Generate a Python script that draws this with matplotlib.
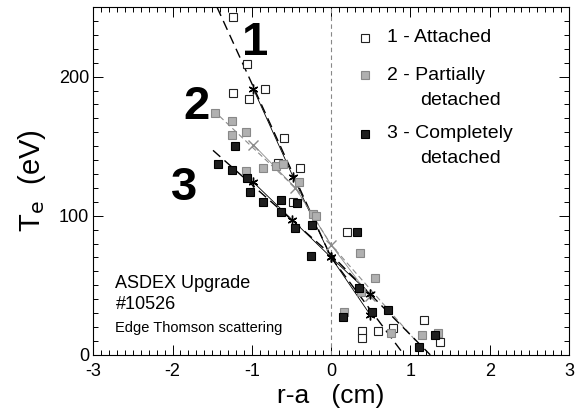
import matplotlib

matplotlib.use("Agg")
import matplotlib.pyplot as plt
from matplotlib.ticker import MultipleLocator

# open squares: 1 - attached
att_x = [-1.24, -1.06, -1.24, -1.03, -0.84, -0.59, -0.67, -0.39, -0.48, 0.20,
         0.39, 0.39, 0.59, 0.78, 1.17, 1.37]
att_y = [243, 209, 188, 184, 191, 156, 138, 134, 110, 88, 17, 12, 17, 19, 25, 9]

# gray squares: 2 - partially detached
part_x = [-1.46, -1.25, -1.25, -1.07, -1.07, -0.86, -0.69, -0.61, -0.41, -0.23,
          -0.19, 0.37, 0.55, 0.38, 0.16, 0.75, 1.15, 1.35]
part_y = [174, 168, 158, 160, 132, 134, 136, 137, 124, 101, 100, 73, 55, 45, 31,
          16, 14, 16]

# black squares: 3 - completely detached
comp_x = [-1.21, -1.43, -1.25, -1.06, -1.02, -0.86, -0.63, -0.63, -0.43, -0.46,
          -0.24, -0.26, 0.33, 0.35, 0.52, 0.72, 0.15, 1.11, 1.31]
comp_y = [150, 137, 133, 127, 117, 110, 111, 103, 109, 91, 93, 71, 88, 48, 31, 32,
          27, 6, 14]

# averaged points (asterisks)
avg1_x = [-0.98, -0.48, 0.0, 0.49]
avg1_y = [191, 128, 70, 29]
avg2_x = [-0.98, -0.45, 0.0, 0.49]
avg2_y = [151, 120, 79, 42]
avg3_x = [-0.98, -0.49, 0.0, 0.49]
avg3_y = [124, 97, 70, 44]

# fitted profiles
fit1_x = [-1.44, 0.0, 0.92]
fit1_y = [250, 70, 0]
fit2_x = [-1.49, -0.45, 0.0, 1.1]
fit2_y = [176, 120, 79, 8]
fit3_x = [-1.49, 0.0, 1.25]
fit3_y = [147, 72, 0]

legend_rows = ["1 - Attached", "2 - Partially", "detached", "3 - Completely", "detached"]

plt.rcParams.update({
    "font.family": ["Liberation Sans", "DejaVu Sans"],
    "font.size": 13,
    "axes.unicode_minus": False,
})

fig = plt.figure(figsize=(5.83, 4.16), dpi=100)
ax = fig.add_axes([0.16, 0.147, 0.816, 0.836])

ax.axvline(0, color="#888888", linewidth=0.8, linestyle=(0, (4, 3)))

ax.plot(fit1_x, fit1_y, color="black", linewidth=1.0, linestyle=(0, (7, 4)))
ax.plot(fit2_x, fit2_y, color="#8c8c8c", linewidth=0.8, linestyle=(0, (5, 3)))
ax.plot(fit3_x, fit3_y, color="black", linewidth=1.0, linestyle=(0, (7, 4)))

ax.plot(avg1_x, avg1_y, color="black", linewidth=0.6, marker=(6, 2, 0), markersize=7)
ax.plot(avg2_x, avg2_y, color="#8c8c8c", linewidth=0.6, marker="x", markersize=7)
ax.plot(avg3_x, avg3_y, color="black", linewidth=0.6, marker=(6, 2, 0), markersize=7)

ax.plot(att_x, att_y, linestyle="none", marker="s", markersize=6,
        markerfacecolor="white", markeredgecolor="#222222", markeredgewidth=0.8)
ax.plot(part_x, part_y, linestyle="none", marker="s", markersize=6,
        markerfacecolor="#b0b0b0", markeredgecolor="#888888", markeredgewidth=0.8)
ax.plot(comp_x, comp_y, linestyle="none", marker="s", markersize=6,
        markerfacecolor="#1e1e1e", markeredgecolor="black", markeredgewidth=0.8)

# curve numbers
ax.text(-0.96, 224, "1", fontsize=34, fontweight="bold", ha="center", va="center")
ax.text(-1.70, 178, "2", fontsize=34, fontweight="bold", ha="center", va="center")
ax.text(-1.85, 120, "3", fontsize=34, fontweight="bold", ha="center", va="center")

# legend drawn by hand
leg_mx = 0.43
leg_tx = 0.70
row_y = [228, 201, 183, 159, 141]
ax.plot(leg_mx, row_y[0], marker="s", markersize=6, markerfacecolor="white",
        markeredgecolor="#222222", markeredgewidth=0.8)
ax.plot(leg_mx, row_y[1], marker="s", markersize=6, markerfacecolor="#b0b0b0",
        markeredgecolor="#888888", markeredgewidth=0.8)
ax.plot(leg_mx, row_y[3], marker="s", markersize=6, markerfacecolor="#1e1e1e",
        markeredgecolor="black", markeredgewidth=0.8)
for label, yy in zip(legend_rows, row_y):
    xx = leg_tx if label[0].isdigit() else 1.12
    ax.text(xx, yy, label, fontsize=14, ha="left", va="center")

ax.text(-2.72, 51, "ASDEX Upgrade", fontsize=13, ha="left", va="center")
ax.text(-2.72, 36, "#10526", fontsize=13, ha="left", va="center")
ax.text(-2.72, 19, "Edge Thomson scattering", fontsize=10.5, ha="left", va="center")

ax.set_xlim(-3, 3)
ax.set_ylim(0, 250)
ax.set_xticks([-3, -2, -1, 0, 1, 2, 3])
ax.set_yticks([0, 100, 200])
ax.xaxis.set_minor_locator(MultipleLocator(0.1))
ax.yaxis.set_minor_locator(MultipleLocator(10))
ax.tick_params(which="both", direction="in", top=True, right=True, width=0.7)
ax.tick_params(which="major", length=7, labelsize=13)
ax.tick_params(axis="x", which="major", pad=6)
ax.tick_params(axis="y", which="major", pad=3)
ax.tick_params(which="minor", length=3.5)
for spine in ax.spines.values():
    spine.set_linewidth(0.8)

ax.set_xlabel("r-a   (cm)", fontsize=19, labelpad=3)
ax.set_ylabel("T$_\\mathrm{e}$  (eV)", fontsize=21, labelpad=8)

fig.savefig("out.png", dpi=100)
